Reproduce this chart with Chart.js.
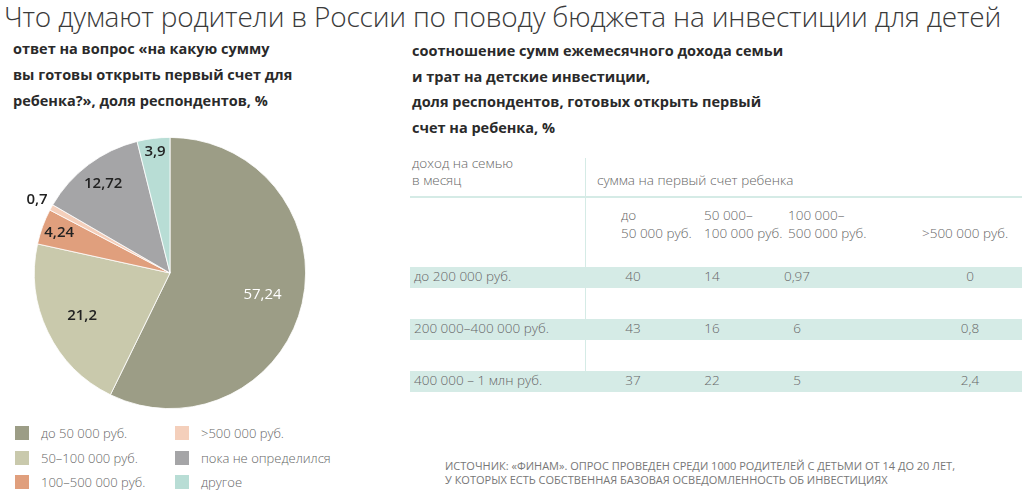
<!DOCTYPE html>
<html><head><meta charset="utf-8">
<script src="https://cdn.jsdelivr.net/npm/chart.js@4"></script>
<style>
body{margin:0;width:1024px;height:498px;background:#fff;font-family:"Open Sans",sans-serif;position:relative;overflow:hidden;color:#333}
.a{position:absolute;white-space:nowrap}
#title{left:4px;top:-3px;font-size:28px;font-weight:300;color:#3a3a3a;letter-spacing:-0.2px}
.sub{font-weight:700;font-size:14.5px;line-height:26px;color:#2a2a2a}
.lg{font-size:13px;color:#666;font-weight:300}
.lg i{display:inline-block;width:14px;height:14px;vertical-align:-2px;margin-right:12px}
.t{font-size:13.5px;color:#666;font-weight:300}
.band{position:absolute;left:410px;width:612px;height:21px;background:#d5ebe6}
.src{font-size:11px;color:#777;line-height:14px;text-transform:uppercase}
</style></head><body>
<div class="a" id="title">Что думают родители в России по поводу бюджета на инвестиции для детей</div>
<div class="a sub" style="left:13px;top:36px">ответ на вопрос «на какую сумму<br>вы готовы открыть первый счет для<br>ребенка?», доля респондентов, %</div>
<div class="a sub" style="left:412px;top:38px;line-height:25.5px">соотношение сумм ежемесячного дохода семьи<br>и трат на детские инвестиции,<br>доля респондентов, готовых открыть первый<br>счет на ребенка, %</div>
<div class="a" style="left:0px;top:133px;width:340px;height:280px"><canvas id="c"></canvas></div>
<div id="legend"></div>
<div id="table"></div>
<div class="a src" style="left:445px;top:459px">Источник: «Финам». Опрос проведен среди 1000 родителей с детьми от 14 до 20 лет,<br>у которых есть собственная базовая осведомленность об инвестициях</div>
<script>
const pieLabels=["до 50 000 руб.","50–100 000 руб.","100–500 000 руб.",">500 000 руб.","пока не определился","другое"];
const pieValues=[57.24,21.2,4.24,0.7,12.72,3.9];
const pieText=["57,24","21,2","4,24","0,7","12,72","3,9"];
const pieColors=["#9c9d86","#c9c9ac","#e09f7d","#f4cfbb","#a5a5a7","#b8ddd5"];
const rowLabels=["до 200 000 руб.","200 000–400 000 руб.","400 000 – 1 млн руб."];
const colLabels=["до<br>50 000 руб.","50 000–<br>100 000 руб.","100 000–<br>500 000 руб.",">500 000 руб."];
const tableValues=[["40","14","0,97","0"],["43","16","6","0,8"],["37","22","5","2,4"]];

const factors=[0.7,0.72,0.87,1.12,0.82,0.9];
const labelPlugin={id:'lbl',afterDatasetsDraw(ch){
  const ctx=ch.ctx;const meta=ch.getDatasetMeta(0);
  meta.data.forEach((arc,i)=>{
    const m=(arc.startAngle+arc.endAngle)/2,r=arc.outerRadius*factors[i];
    ctx.save();ctx.font=(i==0?'400 ':'600 ')+'15px "Open Sans"';
    ctx.fillStyle=i==0?'#fff':'#222';ctx.textAlign='center';ctx.textBaseline='middle';
    ctx.fillText(pieText[i],arc.x+r*Math.cos(m),arc.y+r*Math.sin(m));ctx.restore();
  });}};
new Chart(document.getElementById('c'),{type:'pie',
  data:{labels:pieLabels,datasets:[{data:pieValues,backgroundColor:pieColors,borderColor:'#fff',borderWidth:0.8}]},
  options:{responsive:true,maintainAspectRatio:false,animation:false,layout:{padding:{left:32,right:32,top:4,bottom:4}},
    plugins:{legend:{display:false},tooltip:{enabled:false}}},plugins:[labelPlugin]});

let lh='';const lx=[15,175],ly=[424,449,473];
pieLabels.forEach((l,i)=>{const c=Math.floor(i/3),r=i%3;
  lh+=`<div class="a lg" style="left:${lx[c]}px;top:${ly[r]}px"><i style="background:${pieColors[i]}"></i>${l}</div>`;});
document.getElementById('legend').innerHTML=lh;

let th='';
th+=`<div class="a t" style="left:412px;top:155px;line-height:17px">доход на семью<br>в месяц</div>`;
th+=`<div class="a t" style="left:597px;top:171px">сумма на первый счет ребенка</div>`;
th+=`<div class="a" style="left:410px;top:196px;width:612px;height:2px;background:#d5ebe6"></div>`;
const colX=[621,704,788,922];
colLabels.forEach((c,i)=>{th+=`<div class="a t" style="left:${colX[i]}px;top:${i==3?224:206}px;line-height:18px">${c}</div>`;});
const bandY=[267,319,371],valX=[633,712,797,970];
rowLabels.forEach((r,i)=>{
  th+=`<div class="band" style="top:${bandY[i]}px"></div>`;
  th+=`<div class="a t" style="left:414px;top:${bandY[i]}px">${r}</div>`;
  tableValues[i].forEach((v,j)=>{th+=`<div class="a t" style="left:${valX[j]-30}px;width:60px;text-align:center;top:${bandY[i]}px">${v}</div>`;});
});
th+=`<div class="a" style="left:585px;top:158px;width:1px;height:232px;background:#d5ebe6"></div>`;
document.getElementById('table').innerHTML=th;
</script>
</body></html>
